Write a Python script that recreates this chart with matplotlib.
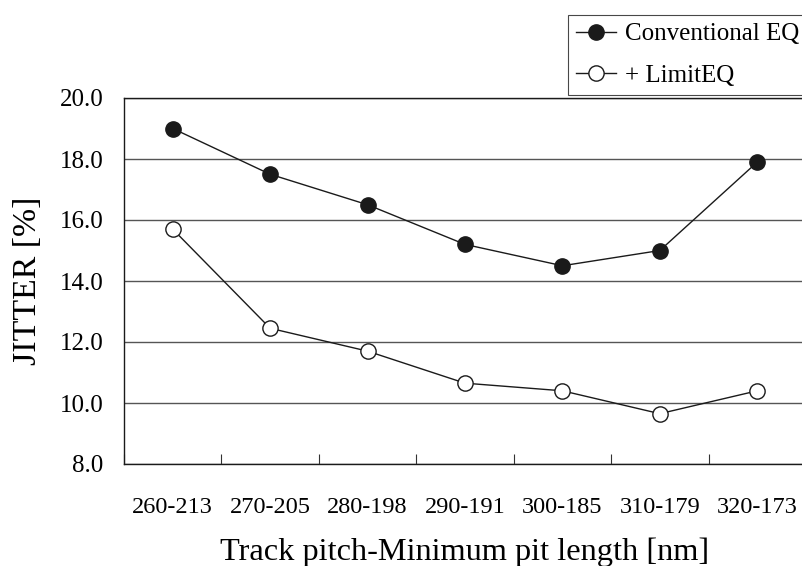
import numpy as np
import matplotlib

matplotlib.use('Agg')
import matplotlib.pyplot as plt

plt.rcParams['font.family'] = ['Liberation Serif', 'DejaVu Serif']

categories = ['260-213', '270-205', '280-198', '290-191', '300-185', '310-179', '320-173']
conventional = [19.0, 17.5, 16.5, 15.2, 14.5, 15.0, 17.9]
limit_eq = [15.7, 12.45, 11.7, 10.65, 10.4, 9.65, 10.4]
y_ticks = [8.0, 10.0, 12.0, 14.0, 16.0, 18.0, 20.0]

fig = plt.figure(figsize=(8.03, 5.66), dpi=100)
ax = fig.add_axes([124 / 803, 1 - 464 / 566, 682 / 803, 366 / 566])

x = np.arange(len(categories))
ax.plot(x, conventional, '-o', color='#1a1a1a', lw=1.0, ms=11,
        mfc='#1a1a1a', mec='#1a1a1a', label='Conventional EQ', zorder=3)
ax.plot(x, limit_eq, '-o', color='#1a1a1a', lw=1.0, ms=11,
        mfc='white', mec='#1a1a1a', mew=1.0, label='+ LimitEQ', zorder=3)

ax.set_xlim(-0.5, len(categories) - 0.5)
ax.set_ylim(8, 20)
ax.set_yticks(y_ticks)
ax.set_yticklabels(['%.1f' % v for v in y_ticks], fontsize=18)
ax.yaxis.grid(True, color='#555555', lw=1.0)
ax.set_axisbelow(True)
ax.tick_params(axis='y', length=0, pad=15)

ax.set_xticks(np.arange(len(categories) + 1) - 0.5, minor=True)
ax.set_xticks(x)
ax.set_xticklabels(categories, fontsize=17.5)
ax.tick_params(axis='x', which='major', length=0, pad=24)
ax.tick_params(axis='x', which='minor', direction='in', length=7, width=0.8, color='#333333')

for s in ['left', 'bottom', 'top']:
    ax.spines[s].set_linewidth(1.0)
    ax.spines[s].set_color('#1a1a1a')
ax.spines['right'].set_visible(False)

ax.set_ylabel('JITTER [%]', fontsize=24.4, labelpad=12)
ax.set_xlabel('Track pitch-Minimum pit length [nm]', fontsize=23.3, labelpad=14)

leg = fig.legend(loc='upper left', bbox_to_anchor=(568 / 803, 1 - 15 / 566),
                 fontsize=18, frameon=True, fancybox=False, handlelength=1.6,
                 handletextpad=0.35, borderpad=0.32, borderaxespad=0, labelspacing=0.74)
leg.get_frame().set_edgecolor('#1a1a1a')
leg.get_frame().set_linewidth(0.8)

plt.savefig('out.png', dpi=100)
